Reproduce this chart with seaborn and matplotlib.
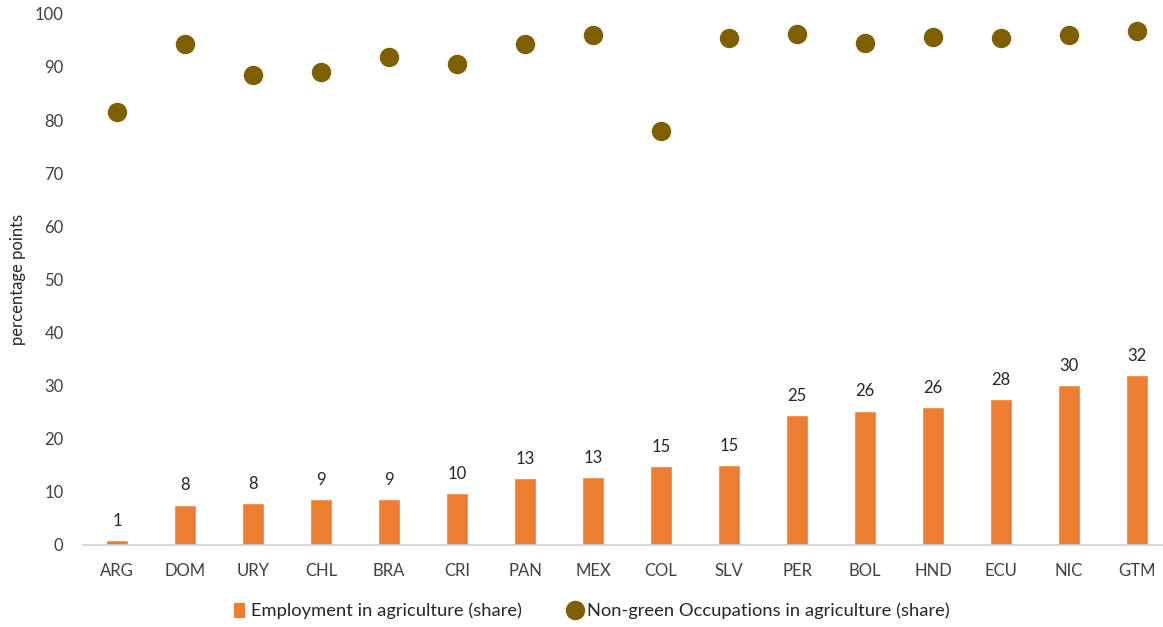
import pandas as pd
import seaborn as sns
import matplotlib.pyplot as plt
from matplotlib.lines import Line2D
from matplotlib.patches import Patch

# countries, sorted by agriculture share
countries = ['ARG', 'DOM', 'URY', 'CHL', 'BRA', 'CRI', 'PAN', 'MEX',
             'COL', 'SLV', 'PER', 'BOL', 'HND', 'ECU', 'NIC', 'GTM']
employment_agri = [0.9, 7.6, 7.8, 8.6, 8.6, 9.8, 12.5, 12.8,
                   14.9, 15.1, 24.5, 25.3, 26.0, 27.5, 30.1, 31.9]
nongreen_agri = [81.5, 94.3, 88.5, 89.1, 91.9, 90.6, 94.3, 96.0,
                 78.0, 95.5, 96.2, 94.5, 95.7, 95.5, 96.0, 96.8]
bar_labels = ['1', '8', '8', '9', '9', '10', '13', '13',
              '15', '15', '25', '26', '26', '28', '30', '32']

bar_color = '#ED7D31'
dot_color = '#7F6000'

df = pd.DataFrame({'country': countries,
                   'employment': employment_agri,
                   'nongreen': nongreen_agri})

sns.set_style('white')
plt.rcParams['font.family'] = ['Lato', 'DejaVu Sans']

fig = plt.figure(figsize=(11.63, 6.27), dpi=100)
# plot area runs slightly past the right edge, as in the original
ax = fig.add_axes([0.0714, 0.131, 0.9355, 0.847])

sns.barplot(data=df, x='country', y='employment', order=countries,
            color=bar_color, width=0.31, saturation=1, ax=ax)
sns.stripplot(data=df, x='country', y='nongreen', order=countries,
              color=dot_color, jitter=False, size=14, linewidth=0,
              ax=ax, zorder=3)

for p, lab in zip(ax.patches, bar_labels):
    ax.annotate(lab, (p.get_x() + p.get_width() / 2, p.get_height()),
                xytext=(0, 8), textcoords='offset points',
                ha='center', va='bottom', fontsize=12, color='#262626')

ax.set_ylim(0, 100)
ax.set_yticks(range(0, 101, 10))
ax.set_xlim(-0.5, len(countries) - 0.5)
ax.set_xlabel('')
ax.set_ylabel('percentage points', fontsize=12, color='#262626', labelpad=6)
ax.tick_params(axis='both', labelsize=12, colors='#404040', length=0)
ax.tick_params(axis='x', pad=13)
ax.tick_params(axis='y', pad=14)

for s in ['top', 'right', 'left']:
    ax.spines[s].set_visible(False)
ax.spines['bottom'].set_color('#D0D0D0')
ax.spines['bottom'].set_linewidth(1.2)

for c in ax.collections:
    c.set_clip_on(False)

handles = [Patch(facecolor=bar_color, edgecolor='none'),
           Line2D([], [], marker='o', linestyle='none',
                  markerfacecolor=dot_color, markeredgecolor='none',
                  markersize=14)]
fig.legend(handles, ['Employment in agriculture (share)',
                     'Non-green Occupations in agriculture (share)'],
           loc='center', bbox_to_anchor=(592 / 1163, 1 - 611 / 627), ncol=2,
           frameon=False, fontsize=13.2, handlelength=0.6, handleheight=0.9,
           handletextpad=0.35, columnspacing=2.6)

plt.savefig('out.png', dpi=100)
